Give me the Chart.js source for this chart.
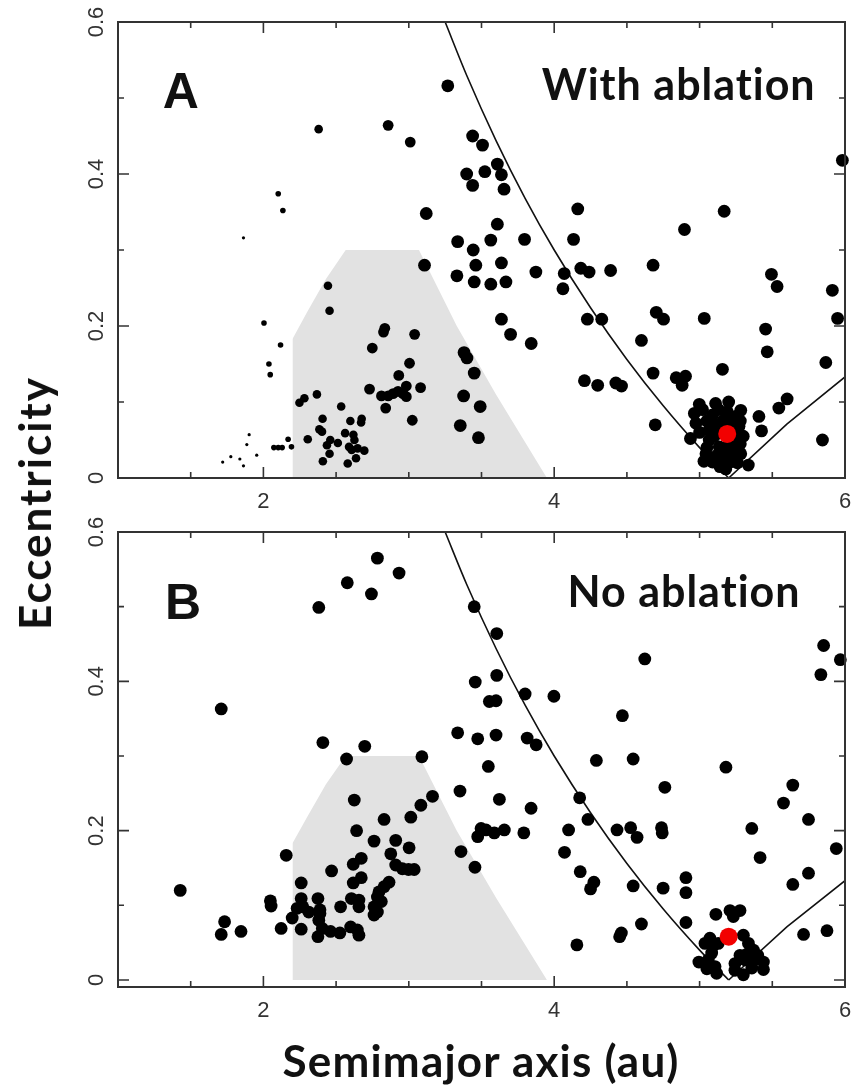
<!DOCTYPE html>
<html>
<head>
<meta charset="utf-8">
<script src="https://cdn.jsdelivr.net/npm/chart.js@4.4.1/dist/chart.umd.min.js"></script>
<style>
  body { margin: 0; background: #fff; }
  #wrap { position: relative; width: 854px; height: 1088px; }
  canvas { position: absolute; left: 0; }
  #panelA { top: 0; }
  #panelB { top: 512px; }
  .ylabel {
    position: absolute; left: 34px; top: 503px;
    transform: translate(-50%, -50%) rotate(-90deg);
    font: bold 44px Lato; color: #111; white-space: nowrap; letter-spacing: 2px;
  }
  .xlabel {
    position: absolute; left: 481px; top: 1060px;
    transform: translate(-50%, -50%);
    font: bold 44px Lato; color: #111; white-space: nowrap; letter-spacing: 1.2px;
  }
</style>
</head>
<body>
<div id="wrap">
  <canvas id="panelA" width="854" height="512"></canvas>
  <canvas id="panelB" width="854" height="576"></canvas>
  <div class="ylabel">Eccentricity</div>
  <div class="xlabel">Semimajor axis (au)</div>
</div>
<script>
// x = semimajor axis (au), y = eccentricity
const xTicks = [1.5, 2, 2.5, 3, 3.5, 4, 4.5, 5, 5.5, 6];
const xLabels = [2, 4, 6];
const yTicks = [0, 0.1, 0.2, 0.3, 0.4, 0.5, 0.6];
const yLabels = [0, 0.2, 0.4, 0.6];

// grey zone and the two Jupiter-crossing boundaries
const greyZone = [[2.2, 0], [2.2, 0.183], [2.3, 0.218], [2.43, 0.262], [2.566, 0.3],
  [3.07, 0.3], [3.33, 0.2], [3.6, 0.11], [3.95, 0]];
const leftCurve = [[3.25, 0.6], [3.4, 0.529], [3.6, 0.444], [3.8, 0.368], [4.0, 0.3],
  [4.25, 0.224], [4.5, 0.156], [4.75, 0.095], [5.0, 0.04], [5.2, 0]];
const rightCurve = [[5.2, 0], [5.6, 0.071], [6.0, 0.133]];

// panel A (with ablation), grouped by marker size
const aTiny = [[1.72, 0.021], [1.776, 0.028], [1.838, 0.025], [1.863, 0.016], [1.886, 0.044],
  [1.902, 0.057], [1.954, 0.03], [1.863, 0.316]];
const aSmall = [[2.004, 0.204], [2.118, 0.175], [2.038, 0.15], [2.047, 0.136], [2.102, 0.374],
  [2.134, 0.352], [2.072, 0.04], [2.102, 0.04], [2.129, 0.04], [2.17, 0.051], [2.193, 0.041]];
const aMedium = [[2.38, 0.459], [2.444, 0.253], [2.455, 0.22], [2.535, 0.094], [2.368, 0.11],
  [2.282, 0.105], [2.248, 0.099], [2.407, 0.078], [2.385, 0.064], [2.403, 0.061], [2.598, 0.075],
  [2.676, 0.078], [2.672, 0.073], [2.562, 0.059], [2.619, 0.057], [2.626, 0.05], [2.305, 0.051],
  [2.46, 0.05], [2.512, 0.046], [2.437, 0.043], [2.589, 0.041], [2.607, 0.037], [2.648, 0.039],
  [2.694, 0.036], [2.455, 0.032], [2.637, 0.026], [2.409, 0.022], [2.58, 0.019]];
const aLarge = [[2.858, 0.464], [3.01, 0.442], [2.835, 0.197], [2.826, 0.192], [3.04, 0.189],
  [2.749, 0.171], [3.005, 0.151], [2.931, 0.135], [2.983, 0.121], [2.73, 0.117], [3.081, 0.119],
  [2.812, 0.108], [2.858, 0.108], [2.892, 0.111], [2.926, 0.114], [2.96, 0.111], [2.983, 0.107],
  [2.841, 0.092], [3.024, 0.076]];
const aBig = [[3.268, 0.516], [3.439, 0.45], [3.398, 0.4], [3.439, 0.385], [3.12, 0.348],
  [3.336, 0.311], [3.443, 0.3], [3.461, 0.28], [3.108, 0.28], [3.331, 0.266], [3.45, 0.258],
  [3.38, 0.165], [3.4, 0.158], [3.45, 0.138], [3.377, 0.108], [3.491, 0.094], [3.354, 0.069],
  [3.479, 0.053], [3.507, 0.438], [3.609, 0.413], [3.523, 0.403], [3.637, 0.399], [3.655, 0.38],
  [4.162, 0.354], [5.169, 0.351], [4.896, 0.327], [3.609, 0.334], [3.564, 0.313], [3.796, 0.314],
  [4.133, 0.314], [5.982, 0.418], [3.637, 0.283], [3.564, 0.255], [3.668, 0.258], [3.874, 0.271],
  [4.069, 0.269], [4.06, 0.249], [4.183, 0.276], [4.24, 0.271], [4.388, 0.273], [4.68, 0.28],
  [5.494, 0.268], [5.533, 0.252], [5.913, 0.247], [5.949, 0.21], [3.637, 0.209], [3.7, 0.189],
  [3.842, 0.177], [4.228, 0.209], [4.327, 0.209], [4.702, 0.218], [4.752, 0.209], [5.032, 0.21],
  [4.6, 0.181], [5.454, 0.196], [5.465, 0.166], [5.868, 0.152], [5.157, 0.143], [4.68, 0.138],
  [4.839, 0.132], [4.903, 0.134], [4.88, 0.122], [4.208, 0.128], [4.299, 0.122], [4.424, 0.125],
  [4.463, 0.121], [4.695, 0.07], [5.845, 0.05], [5.545, 0.092], [5.602, 0.104], [5.408, 0.081],
  [5.426, 0.062], [5.335, 0.017], [5.283, 0.089], [4.937, 0.052],
  [4.998, 0.097], [4.964, 0.085], [4.975, 0.072], [5.089, 0.083], [5.191, 0.087], [5.249, 0.081],
  [5.271, 0.068], [5.066, 0.05], [5.26, 0.05], [5.044, 0.032], [5.089, 0.021], [5.157, 0.028],
  [5.226, 0.028], [5.283, 0.032], [5.135, 0.041], [5.066, 0.063], [5.12, 0.07], [5.25, 0.06],
  [5.2, 0.045], [5.1, 0.055], [5.17, 0.035], [5.23, 0.04], [5.14, 0.015], [5.2, 0.02],
  [5.02, 0.09], [5.05, 0.075], [5.13, 0.09], [5.16, 0.075], [5.22, 0.075], [5.28, 0.075],
  [5.3, 0.055], [5.28, 0.045], [5.15, 0.06], [5.24, 0.03], [5.12, 0.03], [5.05, 0.04],
  [5.18, 0.012], [5.26, 0.02], [5.0, 0.06], [5.11, 0.098], [5.2, 0.1], [5.03, 0.022]];
const aJupiter = [[5.19, 0.058]];

// panel B (no ablation)
const bPoints = [[2.784, 0.565], [2.933, 0.545], [2.577, 0.532], [2.743, 0.517], [2.381, 0.499],
  [3.45, 0.5], [3.457, 0.399], [1.71, 0.363], [3.336, 0.331], [3.474, 0.323], [2.409, 0.318],
  [2.697, 0.313], [2.572, 0.296], [3.09, 0.299], [3.352, 0.253], [2.625, 0.241], [3.163, 0.246],
  [3.083, 0.234], [3.014, 0.218], [2.83, 0.215], [2.641, 0.2], [2.761, 0.186], [2.91, 0.187],
  [3.002, 0.177], [2.876, 0.169], [2.91, 0.154], [2.956, 0.149], [2.998, 0.148], [3.037, 0.148],
  [3.359, 0.172], [3.474, 0.192], [3.455, 0.151], [2.157, 0.167], [2.673, 0.163], [2.618, 0.155],
  [2.469, 0.146], [2.673, 0.137], [2.618, 0.13], [2.864, 0.131], [2.83, 0.125], [2.795, 0.118],
  [2.784, 0.111], [2.811, 0.105], [2.761, 0.098], [2.784, 0.091], [2.761, 0.087], [2.26, 0.13],
  [1.428, 0.12], [2.048, 0.106], [2.053, 0.099], [2.26, 0.109], [2.375, 0.109], [2.271, 0.098],
  [2.312, 0.091], [2.389, 0.094], [2.232, 0.096], [2.531, 0.098], [2.605, 0.109], [2.657, 0.107],
  [2.657, 0.098], [2.198, 0.083], [1.733, 0.078], [1.71, 0.061], [1.846, 0.065], [2.122, 0.069],
  [2.26, 0.068], [2.381, 0.08], [2.405, 0.069], [2.375, 0.058], [2.462, 0.065], [2.526, 0.063],
  [2.6, 0.071], [2.646, 0.067], [2.657, 0.06], [2.389, 0.089],
  [3.605, 0.464], [4.623, 0.43], [5.853, 0.448], [5.968, 0.429], [5.834, 0.409], [3.605, 0.408],
  [3.8, 0.383], [3.998, 0.38], [3.554, 0.373], [3.6, 0.374], [4.469, 0.354], [3.6, 0.328],
  [3.814, 0.324], [3.876, 0.315], [4.29, 0.294], [4.543, 0.296], [5.181, 0.285], [4.761, 0.258],
  [3.547, 0.286], [3.623, 0.242], [3.841, 0.23], [4.175, 0.244], [4.232, 0.215], [5.641, 0.261],
  [5.577, 0.237], [5.749, 0.215], [5.94, 0.176], [5.359, 0.203], [5.416, 0.164], [3.497, 0.203],
  [3.531, 0.201], [3.588, 0.197], [3.657, 0.201], [3.791, 0.197], [4.099, 0.201], [4.071, 0.171],
  [4.432, 0.201], [4.526, 0.204], [4.57, 0.191], [4.738, 0.204], [4.743, 0.197], [4.179, 0.145],
  [4.273, 0.131], [4.25, 0.122], [4.543, 0.126], [4.749, 0.123], [4.906, 0.137], [4.906, 0.117],
  [4.906, 0.077], [4.6, 0.075], [4.462, 0.063], [4.45, 0.058], [4.156, 0.047], [5.641, 0.128],
  [5.749, 0.143], [5.715, 0.061], [5.876, 0.066],
  [5.112, 0.088], [5.209, 0.093], [5.278, 0.093], [5.232, 0.085], [5.037, 0.049], [5.083, 0.036],
  [4.995, 0.024], [5.06, 0.027], [5.117, 0.009], [5.106, 0.018], [5.128, 0.049], [5.071, 0.056],
  [5.301, 0.06], [5.336, 0.049], [5.37, 0.04], [5.278, 0.033], [5.243, 0.022], [5.312, 0.027],
  [5.381, 0.027], [5.439, 0.024], [5.439, 0.014], [5.359, 0.016], [5.301, 0.007], [5.243, 0.013],
  [5.09, 0.045], [5.05, 0.015], [5.33, 0.035], [5.4, 0.033]];
const bJupiter = [[5.2, 0.058]];

const toXY = (pts) => pts.map(([x, y]) => ({ x, y }));

const dots = (pts, r, color = '#000', order = 1) => ({
  data: toXY(pts),
  pointRadius: r,
  pointHoverRadius: r,
  pointBackgroundColor: color,
  pointBorderWidth: 0,
  showLine: false,
  clip: false,
  order,
});

const line = (pts, extra) => ({
  data: toXY(pts),
  showLine: true,
  pointRadius: 0,
  borderColor: '#111',
  borderWidth: 1.6,
  fill: false,
  order: 3,
  ...extra,
});

// frame with inward ticks on all four sides
const frame = {
  id: 'frame',
  afterDatasetsDraw(chart) {
    const { ctx, chartArea: { left, right, top, bottom }, scales: { x, y } } = chart;
    ctx.save();
    ctx.strokeStyle = '#333';
    ctx.lineWidth = 2;
    ctx.strokeRect(left, top, right - left, bottom - top);
    ctx.lineWidth = 1.6;
    ctx.beginPath();
    x.ticks.forEach((t) => {
      if (t.value <= x.min || t.value >= x.max) return;
      const px = x.getPixelForValue(t.value);
      const len = xLabels.includes(t.value) ? 11 : 6;
      ctx.moveTo(px, bottom); ctx.lineTo(px, bottom - len);
      ctx.moveTo(px, top); ctx.lineTo(px, top + len);
    });
    y.ticks.forEach((t) => {
      if (t.value <= y.min || t.value >= y.max) return;
      const py = y.getPixelForValue(t.value);
      const len = yLabels.includes(t.value) ? 11 : 6;
      ctx.moveTo(left, py); ctx.lineTo(left + len, py);
      ctx.moveTo(right, py); ctx.lineTo(right - len, py);
    });
    ctx.stroke();
    ctx.restore();
  },
};

const panelText = {
  id: 'panelText',
  afterDraw(chart, args, opts) {
    const { ctx, scales: { x, y } } = chart;
    ctx.save();
    ctx.fillStyle = '#111';
    ctx.textBaseline = 'alphabetic';
    opts.items.forEach((it) => {
      ctx.font = it.font;
      ctx.letterSpacing = it.spacing || '0px';
      ctx.textAlign = it.align;
      ctx.fillText(it.text, x.getPixelForValue(it.at[0]), y.getPixelForValue(it.at[1]));
    });
    ctx.restore();
  },
};

const tickFont = { family: 'Liberation Sans', size: 22 };

function drawPanel(id, datasets, cfg) {
  new Chart(document.getElementById(id), {
    type: 'scatter',
    data: { datasets },
    options: {
      responsive: false,
      animation: false,
      devicePixelRatio: 1,
      events: [],
      layout: { padding: cfg.padding },
      plugins: {
        legend: { display: false },
        tooltip: { enabled: false },
        panelText: { items: cfg.texts },
      },
      scales: {
        x: {
          type: 'linear',
          min: 1,
          max: 6,
          grid: { display: false, drawTicks: false },
          border: { display: false },
          afterBuildTicks: (s) => { s.ticks = xTicks.map((value) => ({ value })); },
          afterFit: (s) => { s.height = cfg.xHeight; s.paddingLeft = 0; s.paddingRight = 0; },
          ticks: {
            autoSkip: false,
            maxRotation: 0,
            padding: 11,
            color: '#333',
            font: tickFont,
            callback: (v) => (xLabels.includes(v) ? String(v) : ''),
          },
        },
        y: {
          type: 'linear',
          min: cfg.yMin,
          max: 0.6,
          grid: { display: false, drawTicks: false },
          border: { display: false },
          afterBuildTicks: (s) => { s.ticks = yTicks.map((value) => ({ value })); },
          afterFit: (s) => { s.width = 118; s.paddingTop = 0; s.paddingBottom = 0; },
          ticks: {
            autoSkip: false,
            minRotation: 90,
            maxRotation: 90,
            crossAlign: 'center',
            padding: 6,
            color: '#333',
            font: tickFont,
            callback: (v) => (yLabels.includes(v) ? String(v) : ''),
          },
        },
      },
    },
    plugins: [frame, panelText],
  });
}

const grey = line(greyZone, {
  borderWidth: 0,
  borderColor: 'rgba(0,0,0,0)',
  backgroundColor: '#e2e2e2',
  fill: 'origin',
  order: 4,
});

drawPanel('panelA', [
  grey,
  line(leftCurve, { cubicInterpolationMode: 'monotone' }),
  line(rightCurve),
  dots(aTiny, 1.6),
  dots(aSmall, 2.8),
  dots(aMedium, 4.3),
  dots(aLarge, 5.4),
  dots(aBig, 6.4),
  dots(aJupiter, 9, '#f20000', 0),
], {
  padding: { top: 22, right: 5, left: 0, bottom: 0 },
  xHeight: 34,
  yMin: 0,
  texts: [
    { text: 'A', at: [1.307, 0.487], align: 'left', font: 'bold 50px "Liberation Sans"' },
    { text: 'With ablation', at: [4.856, 0.497], align: 'center', font: 'bold 43px Lato', spacing: '1px' },
  ],
});

drawPanel('panelB', [
  grey,
  line(leftCurve, { cubicInterpolationMode: 'monotone' }),
  line(rightCurve),
  dots(bPoints, 6.4),
  dots(bJupiter, 9, '#f20000', 0),
], {
  padding: { top: 20, right: 9, left: 0, bottom: 0 },
  xHeight: 101,
  yMin: -0.0094,
  texts: [
    { text: 'B', at: [1.324, 0.484], align: 'left', font: 'bold 50px "Liberation Sans"' },
    { text: 'No ablation', at: [4.893, 0.499], align: 'center', font: 'bold 43px Lato', spacing: '1px' },
  ],
});
</script>
</body>
</html>
